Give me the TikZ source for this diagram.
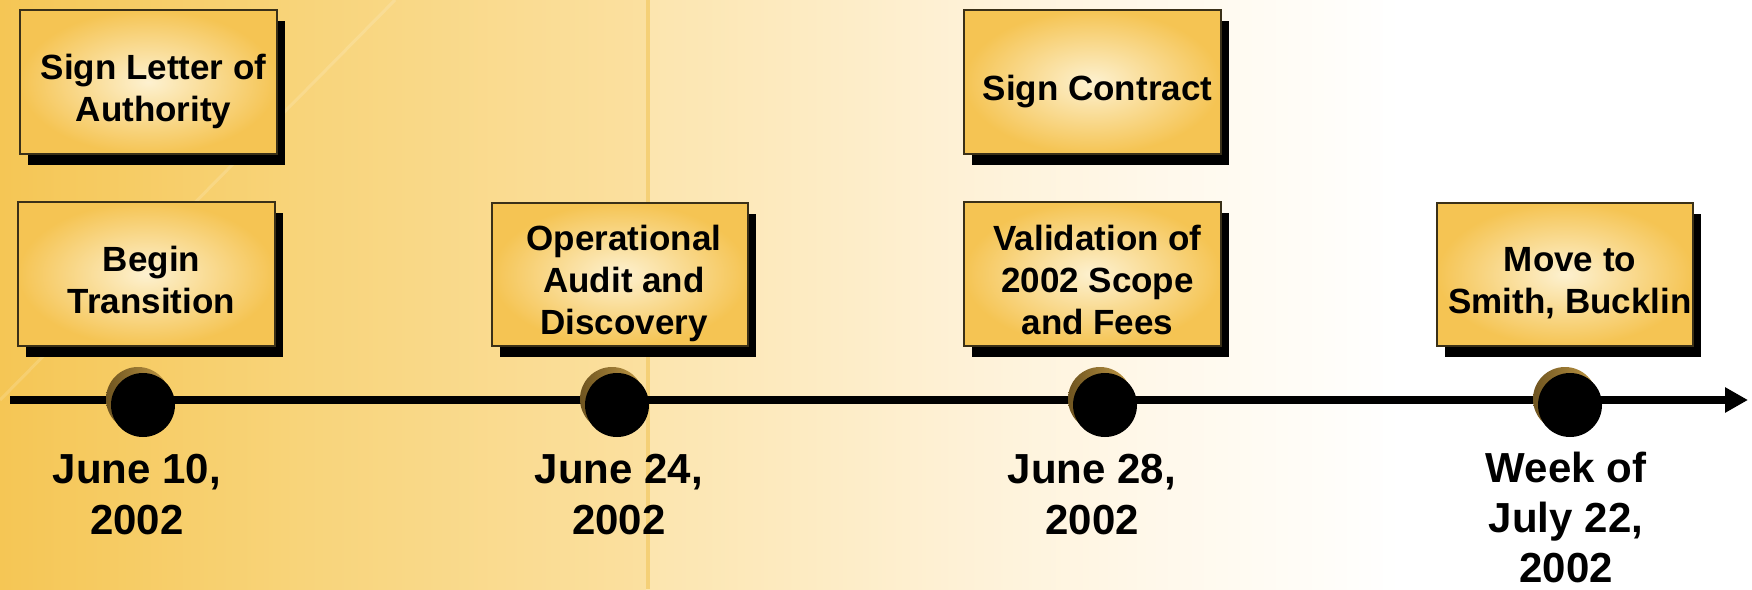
\documentclass[tikz,border=0pt]{standalone}
\usepackage{fontspec}
\setmainfont{Liberation Sans}
\usetikzlibrary{arrows.meta,shadows}
\definecolor{gold}{HTML}{F5C453}
\definecolor{cream}{HTML}{FDF1D0}
\definecolor{boxline}{HTML}{3A3018}
\definecolor{brownD}{HTML}{6E5420}
\definecolor{brownL}{HTML}{C29A46}
\definecolor{bgA}{HTML}{F5C655}
\definecolor{bgB}{HTML}{F8D47A}
\definecolor{bgC}{HTML}{FBE0A0}
\definecolor{bgD}{HTML}{FCE5AE}
\definecolor{bgE}{HTML}{FEF1D6}
\definecolor{bgF}{HTML}{FFF8EA}
\definecolor{bandcol}{HTML}{F5D077}
\begin{document}
\begin{tikzpicture}[x=1pt,y=-1pt,
  box/.style={rectangle, draw=boxline, line width=1.2pt, inner sep=0pt,
    minimum width=257pt, minimum height=144pt, inner color=cream, outer color=gold,
    general shadow={fill=black, shadow xshift=8pt, shadow yshift=-11pt}},
  boxtext/.style={font=\bfseries\fontsize{35}{42}\selectfont, align=center,
    inner sep=0pt, text depth=0pt},
  datetext/.style={font=\bfseries\fontsize{42}{51}\selectfont, align=center,
    inner sep=0pt, anchor=north},
  dot/.style={circle, fill=black, minimum size=64pt, inner sep=0pt,
    general shadow={left color=brownD, right color=brownL, shadow xshift=-5pt, shadow yshift=6pt}},
  timeline/.style={line width=8pt, -{Triangle[length=23pt,width=24pt]}}]
\useasboundingbox (0,0) rectangle (1752,589);
% background
\shade[left color=bgA, right color=bgB] (0,0) rectangle (300.5,589);
\shade[left color=bgB, right color=bgC] (300,0) rectangle (646.5,589);
\shade[left color=bgD, right color=bgE] (646,0) rectangle (960.5,589);
\shade[left color=bgE, right color=bgF] (960,0) rectangle (1150.5,589);
\shade[left color=bgF, right color=white] (1150,0) rectangle (1400.5,589);
\fill[white] (1400,0) rectangle (1752,589);
\fill[bandcol] (646,0) rectangle (650,589);
\draw[white, opacity=0.15, line width=3pt] (395,0) -- (0,400);
% boxes
\node[box] (b1) at (148.5,82) {};
\node[box] (b2) at (146.5,274) {};
\node[box, minimum width=256pt, minimum height=143pt] (b3) at (620,274.5) {};
\node[box] (b4) at (1092.5,82) {};
\node[box] (b5) at (1092.5,274) {};
\node[box, minimum width=256pt, minimum height=143pt] (b6) at (1565,274.5) {};
\node[boxtext] (t1) at ([xshift=5pt,yshift=-5.5pt]b1.center) {Sign Letter of\\Authority};
\node[boxtext] (t2) at ([xshift=5pt,yshift=-5.5pt]b2.center) {Begin\\Transition};
\node[boxtext] (t3) at ([xshift=4pt,yshift=-5.5pt]b3.center) {Operational\\Audit and\\Discovery};
\node[boxtext] (t4) at ([xshift=5pt,yshift=-5.5pt]b4.center) {Sign Contract};
\node[boxtext] (t5) at ([xshift=5pt,yshift=-5.5pt]b5.center) {Validation of\\2002 Scope\\and Fees};
\node[boxtext] (t6) at ([xshift=5pt,yshift=-5.5pt]b6.center) {Move to\\Smith, Bucklin};
% timeline
\coordinate (tstart) at (10,400);
\coordinate (tend) at (1748,400);
\draw[timeline] (tstart) -- (tend);
\node[dot] (c1) at (143,405) {};
\node[dot] (c2) at (617,405) {};
\node[dot] (c3) at (1105,405) {};
\node[dot] (c4) at (1570,405) {};
% dates
\node[datetext] (d1) at (137,454) {June 10,\\2002};
\node[datetext] (d2) at (619,454) {June 24,\\2002};
\node[datetext] (d3) at (1092,454) {June 28,\\2002};
\node[datetext, font=\bfseries\fontsize{42}{50}\selectfont] (d4) at (1566,452) {Week of\\July 22,\\2002};
\end{tikzpicture}
\end{document}
